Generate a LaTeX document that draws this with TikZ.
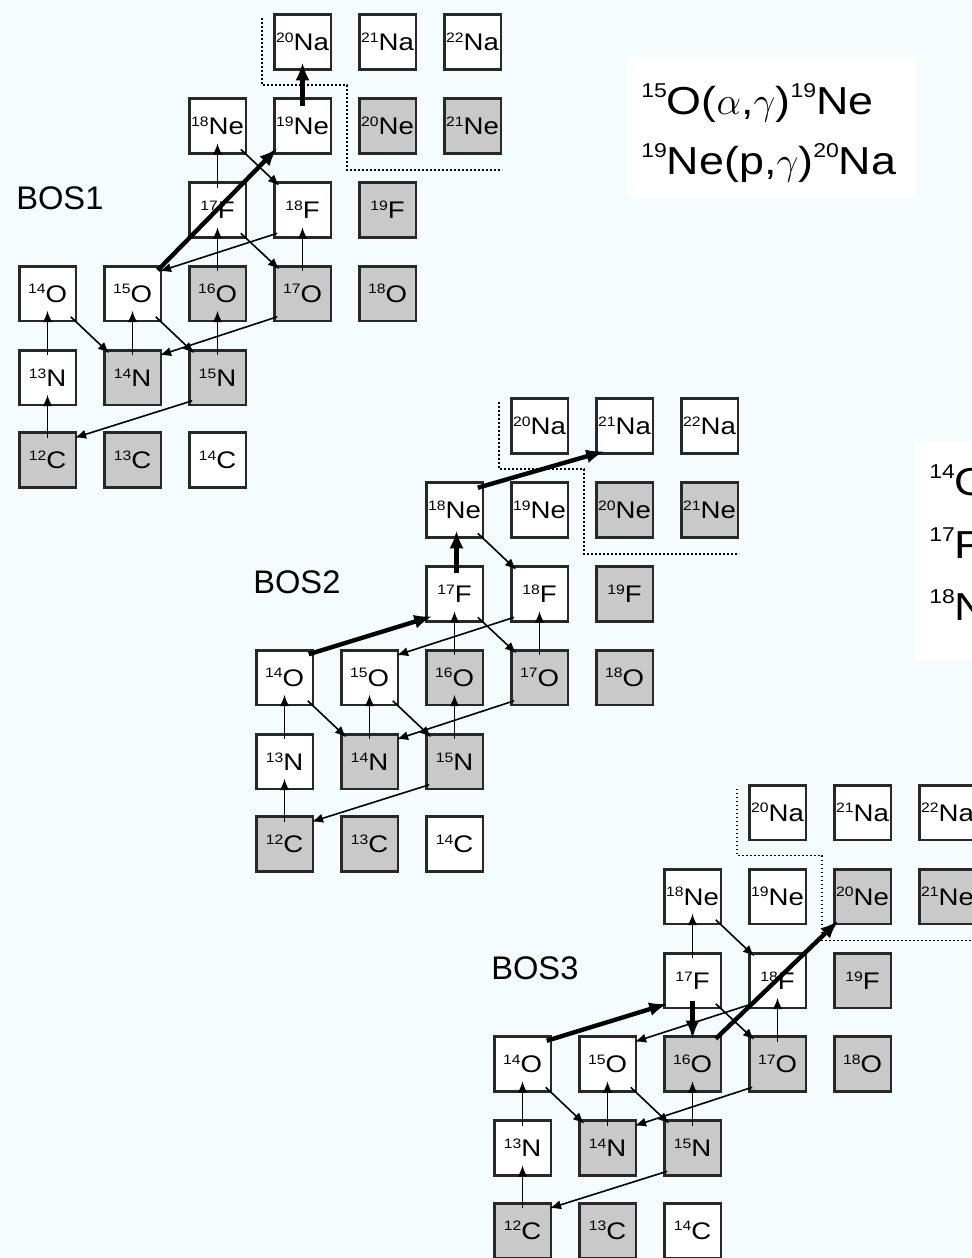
\documentclass[tikz,border=0pt]{standalone}
\usepackage{graphicx}
\usepackage{fontspec}
\setmainfont{Liberation Sans}
\newfontfamily\boxfont[FakeStretch=1.15]{Liberation Sans}
\usetikzlibrary{arrows.meta}
\definecolor{bgc}{RGB}{244,252,253}
\definecolor{stablegray}{RGB}{201,201,201}
\definecolor{edgec}{RGB}{40,40,40}
\newcommand\bnuc[2]{\raisebox{6.3pt}{\fontsize{10.25pt}{10.25pt}\selectfont#1}#2}
\newcommand\enuc[1]{\raisebox{12.5pt}{\fontsize{15pt}{15pt}\selectfont#1}}
\newcommand\mgreek[1]{{\fontsize{24.88pt}{24.88pt}\selectfont\scalebox{1.176}{$#1$}}}
\tikzset{
  isobox/.style={draw=edgec,line width=1.9pt,fill=white,minimum width=42.4pt,minimum height=40.9pt,inner sep=0pt,outer sep=0pt,font=\boxfont\fontsize{18pt}{18pt}\selectfont},
  stablebox/.style={isobox,fill=stablegray},
  thinarr/.style={draw=black,line width=1.2pt,-{Latex[length=8.5pt,width=7pt]}},
  thickarr/.style={draw=black,line width=3.3pt,-{Latex[length=13.5pt,width=10.5pt]}},
  boundary/.style={draw=black,line width=1.4pt,dash pattern=on 1.4pt off 1.6pt},
  boslabel/.style={anchor=base west,inner sep=0pt,font=\fontsize{24.5pt}{24.5pt}\selectfont},
  eqtext/.style={anchor=base west,inner sep=0pt,font=\boxfont\fontsize{29.25pt}{29.25pt}\selectfont},
}
\newcommand\arrUp[2]{\draw[thinarr] ([shift={(0,5)}]#1.north) -- ([shift={(0,-10)}]#2.south);}
\newcommand\arrDR[2]{\draw[thinarr] ([shift={(-5,-4)}]#1.south east) -- ([shift={(5,3)}]#2.north west);}
\newcommand\arrDL[2]{\draw[thinarr] ([shift={(3,-4)}]#1.south west) -- ([shift={(-1,5)}]#2.north east);}
\newcommand\chart[4]{%
\begin{scope}[shift={(#2,#3)}]
 \node[stablebox] (#1C12) at (47.5,460) {\bnuc{12}{C}};
 \node[stablebox] (#1C13) at (132.5,460) {\bnuc{13}{C}};
 \node[isobox] (#1C14) at (217.5,460) {\bnuc{14}{C}};
 \node[isobox] (#1N13) at (47.5,377.5) {\bnuc{13}{N}};
 \node[stablebox] (#1N14) at (132.5,377.5) {\bnuc{14}{N}};
 \node[stablebox] (#1N15) at (217.5,377.5) {\bnuc{15}{N}};
 \node[isobox] (#1O14) at (47.5,293.5) {\bnuc{14}{O}};
 \node[isobox] (#1O15) at (132.5,293.5) {\bnuc{15}{O}};
 \node[stablebox] (#1O16) at (217.5,293.5) {\bnuc{16}{O}};
 \node[stablebox] (#1O17) at (302.5,293.5) {\bnuc{17}{O}};
 \node[stablebox] (#1O18) at (387.5,293.5) {\bnuc{18}{O}};
 \node[isobox] (#1F17) at (217.5,210) {\bnuc{17}{F}};
 \node[isobox] (#1F18) at (302.5,210) {\bnuc{18}{F}};
 \node[stablebox] (#1F19) at (387.5,210) {\bnuc{19}{F}};
 \node[isobox] (#1Ne18) at (217.5,126) {\bnuc{18}{Ne}};
 \node[isobox] (#1Ne19) at (302.5,126) {\bnuc{19}{Ne}};
 \node[stablebox] (#1Ne20) at (387.5,126) {\bnuc{20}{Ne}};
 \node[stablebox] (#1Ne21) at (472.5,126) {\bnuc{21}{Ne}};
 \node[isobox] (#1Na20) at (302.5,42) {\bnuc{20}{Na}};
 \node[isobox] (#1Na21) at (387.5,42) {\bnuc{21}{Na}};
 \node[isobox] (#1Na22) at (472.5,42) {\bnuc{22}{Na}};
 \node[boslabel] (#1label) at (16,209) {#4};
 \draw[boundary] (262,18) -- (262,85) -- (347,85) -- (347,170) -- (502,170);
 \arrUp{#1C12}{#1N13}
 \arrUp{#1N13}{#1O14}
 \arrDR{#1O14}{#1N14}
 \arrUp{#1N14}{#1O15}
 \arrDR{#1O15}{#1N15}
 \arrUp{#1N15}{#1O16}
 \arrDL{#1N15}{#1C12}
 \arrDL{#1O17}{#1N14}
 \arrDR{#1F17}{#1O17}
 \arrUp{#1O17}{#1F18}
 \arrDL{#1F18}{#1O15}
 \arrDR{#1Ne18}{#1F18}
\end{scope}}
\begin{document}
\begin{tikzpicture}[x=0.75pt,y=-0.75pt]
\fill[bgc] (0,0) rectangle (972,1258);
\useasboundingbox (0,0) rectangle (972,1258);
% equations
\fill[white] (627,57) rectangle (916,197);
\node[eqtext] (eqA) at (641,114) {\enuc{15}O(\mgreek{\alpha},\mgreek{\gamma})\enuc{19}Ne};
\node[eqtext] (eqB) at (641,174) {\enuc{19}Ne(p,\mgreek{\gamma})\enuc{20}Na};
\fill[white] (915,443) rectangle (985,660);
\node[eqtext] (eqC) at (929,495) {\enuc{14}O};
\node[eqtext] (eqD) at (929,558) {\enuc{17}F};
\node[eqtext] (eqE) at (929,620) {\enuc{18}Ne};
% BOS1
\chart{a}{0}{0}{BOS1}
\arrUp{aO16}{aF17}
\arrUp{aF17}{aNe18}
\draw[thickarr] ([shift={(-3,4)}]aO15.north east) -- ([shift={(3,-5)}]aNe19.south west);
\draw[thickarr] ([shift={(0,7)}]aNe19.north) -- ([shift={(0,-7)}]aNa20.south);
% BOS2
\chart{b}{237}{384}{BOS2}
\arrUp{bO16}{bF17}
\draw[thickarr] ([shift={(-4,4)}]bO14.north east) -- ([shift={(6,-5)}]bF17.south west);
\draw[thickarr] ([shift={(2,6)}]bF17.north) -- ([shift={(2,-7)}]bNe18.south);
\draw[thickarr] ([shift={(-5,5)}]bNe18.north east) -- ([shift={(8,-2)}]bNa21.south west);
% BOS3
\chart{c}{475}{770.5}{BOS3}
\arrUp{cF17}{cNe18}
\draw[thickarr] ([shift={(-4,4)}]cO14.north east) -- ([shift={(3,-4)}]cF17.south west);
\draw[thickarr] ([shift={(0,-7)}]cF17.south) -- ([shift={(0,2)}]cO16.north);
\draw[thickarr] ([shift={(-5,2)}]cO16.north east) -- ([shift={(4,-3)}]cNe20.south west);
\end{tikzpicture}
\end{document}
